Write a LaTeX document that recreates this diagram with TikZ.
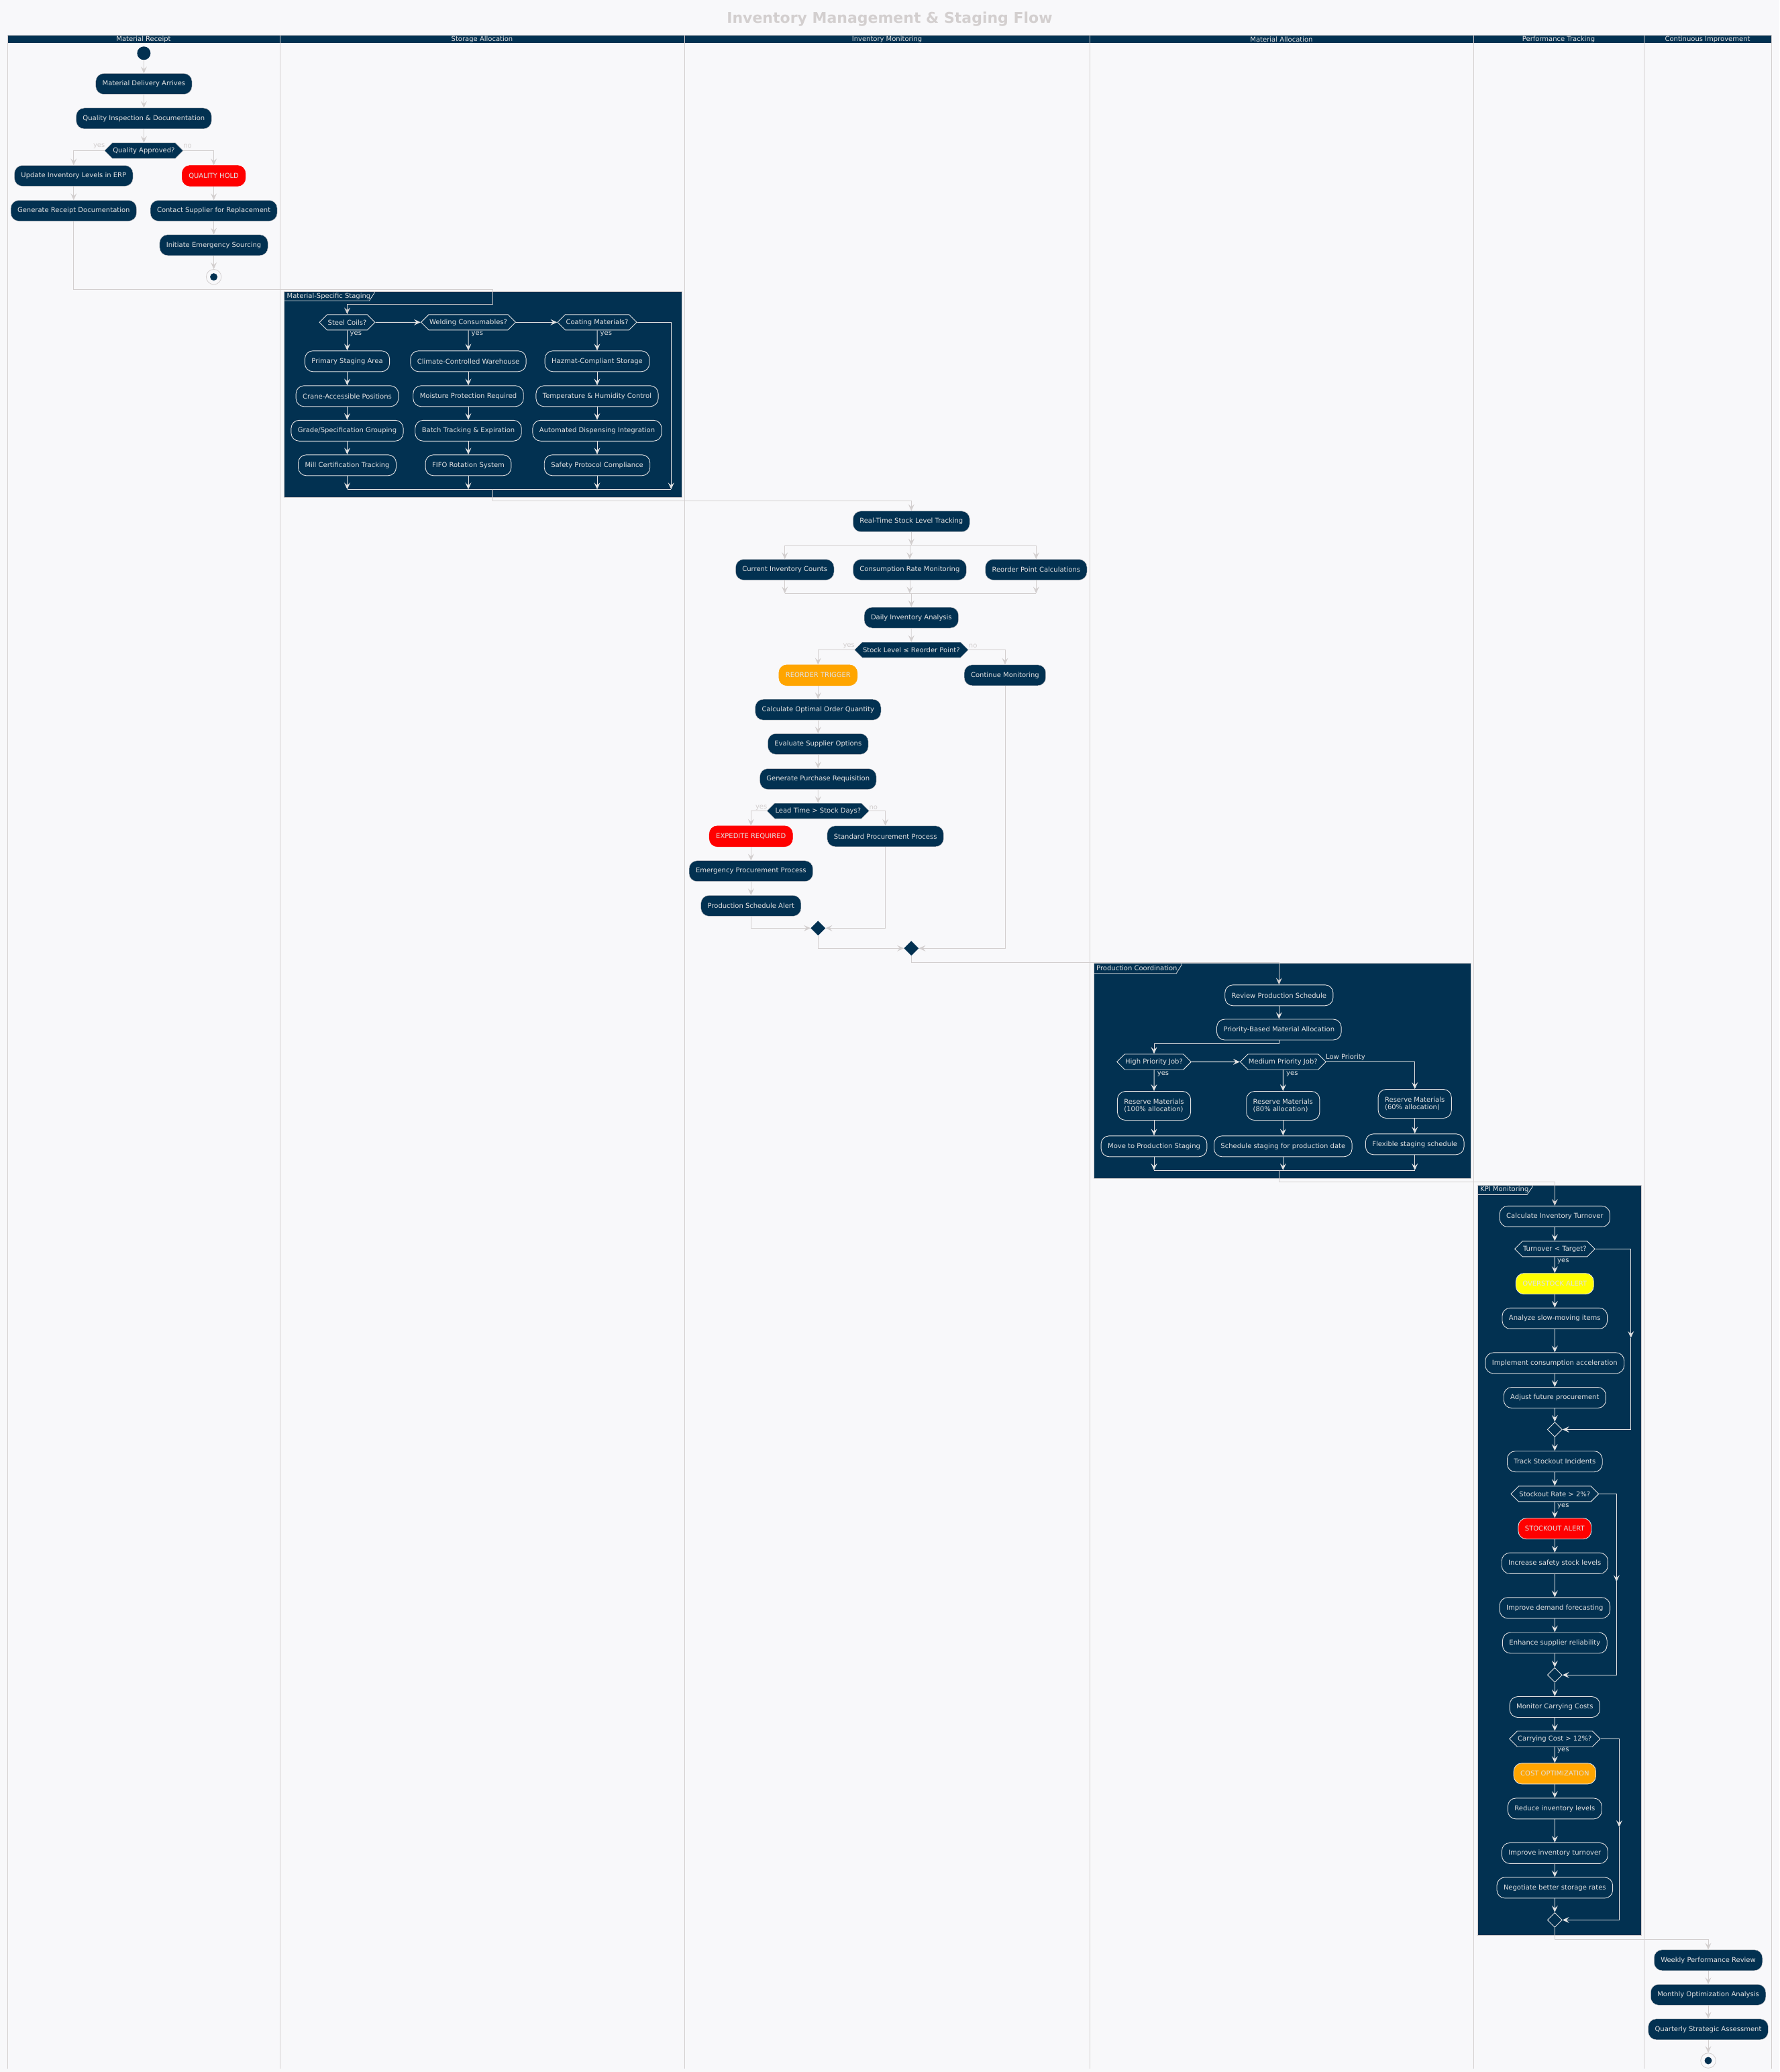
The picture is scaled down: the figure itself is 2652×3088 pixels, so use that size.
\documentclass[tikz,border=0pt]{standalone}
\usepackage{fontspec}
\setmainfont{DejaVu Sans}
\usetikzlibrary{arrows.meta,shapes.symbols,shapes.geometric}
\definecolor{navy}{HTML}{023151}
\definecolor{paper}{HTML}{F8F8FA}
\definecolor{wire}{HTML}{D3CFCF}
\definecolor{ink}{HTML}{E2E2E2}
\definecolor{hotred}{HTML}{FF0000}
\definecolor{amber}{HTML}{FFA500}
\definecolor{lemon}{HTML}{FFFF00}

\begin{document}
\begin{tikzpicture}[
    x=1pt, y=-1pt,
    >={Stealth[length=10pt,width=9pt,inset=4pt]},
    font=\fontsize{10}{11}\selectfont,
    act/.style={
        draw=wire,
        line width=0.5pt,
        fill=navy,
        text=ink,
        rounded corners=12pt,
        minimum height=31pt,
        inner xsep=10pt,
        align=center
    },
    gact/.style={act, draw=ink, line width=0.9pt},
    gact2/.style={gact, align=left, minimum height=43pt},
    cond/.style={
        shape=signal,
        signal to=east and west,
        signal pointer angle=90,
        fill=navy,
        draw=wire,
        line width=0.5pt,
        text=ink,
        minimum height=23pt,
        inner xsep=1pt,
        inner ysep=1pt
    },
    gcond/.style={cond, draw=ink, line width=0.9pt},
    merge/.style={diamond, fill=navy, minimum size=22pt, inner sep=0pt},
    gmerge/.style={merge, draw=ink, line width=0.9pt},
    start/.style={circle, fill=navy, minimum size=20pt, inner sep=0pt},
    stop/.style={circle, draw=wire, line width=0.8pt, fill=paper, minimum size=22.5pt, inner sep=0pt,
        path picture={\fill[navy] (path picture bounding box.center) circle (5.5pt);}},
    grpbox/.style={fill=navy, draw=wire, line width=0.8pt},
    tabline/.style={draw=ink, line width=0.8pt},
    tabtext/.style={text=ink, anchor=west, inner sep=0pt},
    lanehead/.style={text=ink, inner sep=0pt},
    lbl/.style={text=wire, inner sep=0pt},
    glbl/.style={text=ink, inner sep=0pt, anchor=west},
    arr/.style={->, draw=wire, line width=0.8pt},
    garr/.style={->, draw=ink, line width=1pt},
    gline/.style={draw=ink, line width=1pt}
]
\useasboundingbox (0,0) rectangle (2652,3088);
\fill[paper] (0,0) rectangle (2652,3088);

% title and swimlanes
\node[font=\bfseries\fontsize{22}{26}\selectfont, text=wire, anchor=base] (title) at (1326,35)
    {Inventory Management \& Staging Flow};
\fill[navy] (11,52.3) rectangle (2640,64.3);
\draw[wire, line width=0.8pt] (11,52.3) -- (2640,52.3);
\foreach \lx in {11,417,1020,1624,2196,2450,2640}
    \draw[wire, line width=0.8pt] (\lx,52.3) -- (\lx,3083);
\node[lanehead] (hrcpt) at (214,58.3) {Material Receipt};
\node[lanehead] (hstor) at (718.5,58.3) {Storage Allocation};
\node[lanehead] (hmon) at (1322,58.3) {Inventory Monitoring};
\node[lanehead] (halloc) at (1910,58.3) {Material Allocation};
\node[lanehead] (hperf) at (2323,58.3) {Performance Tracking};
\node[lanehead] (himpr) at (2545,58.3) {Continuous Improvement};

% material receipt
\node[start] (st1) at (214.4,79.3) {};
\node[act] (deliv) at (214.4,125) {Material Delivery Arrives};
\node[act] (inspect) at (214.4,176.5) {Quality Inspection \& Documentation};
\node[cond] (qok) at (214.4,224.5) {Quality Approved?};
\node[lbl] (qyes) at (147.7,218) {yes};
\node[lbl] (qno) at (279.5,218) {no};
\node[act] (erp) at (109.8,262) {Update Inventory Levels in ERP};
\node[act] (rcpt) at (109.8,314) {Generate Receipt Documentation};
\node[act, fill=hotred, draw=hotred] (hold) at (318.6,262) {QUALITY HOLD};
\node[act] (contact) at (318.6,314) {Contact Supplier for Replacement};
\node[act] (emerg) at (318.6,365.3) {Initiate Emergency Sourcing};
\node[stop] (end1) at (318.6,412.7) {};

\draw[arr] (st1) -- (deliv);
\draw[arr] (deliv) -- (inspect);
\draw[arr] (inspect) -- (qok);
\draw[arr] (qok.west) -| (erp.north);
\draw[arr] (qok.east) -| (hold.north);
\draw[arr] (erp) -- (rcpt);
\draw[arr] (hold) -- (contact);
\draw[arr] (contact) -- (emerg);
\draw[arr] (emerg) -- (end1);

% storage allocation: material-specific staging
\draw[grpbox] (423.8,434) rectangle (1016.2,741);
\draw[tabline] (423.8,448.3) -- (550.4,448.3) -- (558.3,436) -- (558.3,434);
\node[tabtext] (stgtab) at (427.5,441.3) {Material-Specific Staging};

\node[gcond] (steel) at (517.5,480.3) {Steel Coils?};
\node[gcond] (weld) at (698,480.3) {Welding Consumables?};
\node[gcond] (coat) at (890,480.3) {Coating Materials?};
\node[glbl] (syes) at (521.5,497.7) {yes};
\node[glbl] (wyes) at (702.5,497.7) {yes};
\node[glbl] (cyes) at (894.5,497.7) {yes};

\node[gact] (prim) at (517.5,538.3) {Primary Staging Area};
\node[gact] (crane) at (517.5,590.3) {Crane-Accessible Positions};
\node[gact] (grade) at (517.5,641.8) {Grade/Specification Grouping};
\node[gact] (mill) at (517.5,693.3) {Mill Certification Tracking};
\node[gact] (clim) at (698,538.3) {Climate-Controlled Warehouse};
\node[gact] (moist) at (698,590.3) {Moisture Protection Required};
\node[gact] (batch) at (698,641.8) {Batch Tracking \& Expiration};
\node[gact] (fifo) at (698,693.3) {FIFO Rotation System};
\node[gact] (hazm) at (890,538.3) {Hazmat-Compliant Storage};
\node[gact] (temp) at (890,590.3) {Temperature \& Humidity Control};
\node[gact] (disp) at (890,641.8) {Automated Dispensing Integration};
\node[gact] (safe) at (890,693.3) {Safety Protocol Compliance};

\coordinate (se1) at (734.2,431.7);
\coordinate (se2) at (734.2,453.3);
\draw[arr] (rcpt.south) |- (se1) -- (se2) -| (steel.north);
\draw[garr] (steel) -- (weld);
\draw[garr] (weld) -- (coat);
\draw[garr] (steel) -- (prim);
\draw[garr] (weld) -- (clim);
\draw[garr] (coat) -- (hazm);
\draw[garr] (prim) -- (crane);
\draw[garr] (crane) -- (grade);
\draw[garr] (grade) -- (mill);
\draw[garr] (clim) -- (moist);
\draw[garr] (moist) -- (batch);
\draw[garr] (batch) -- (fifo);
\draw[garr] (hazm) -- (temp);
\draw[garr] (temp) -- (disp);
\draw[garr] (disp) -- (safe);

\coordinate (sjL) at (517.5,729.3);
\coordinate (sjR) at (1000.3,729.3);
\draw[gline] (sjL) -- (sjR);
\draw[garr] (mill) -- (mill |- sjL);
\draw[garr] (fifo) -- (fifo |- sjL);
\draw[garr] (safe) -- (safe |- sjL);
\draw[garr] (coat.east) -| (sjR);

% inventory monitoring
\node[act] (rt) at (1358.3,777.2) {Real-Time Stock Level Tracking};
\coordinate (sx1) at (734.2,729.3);
\coordinate (sx2) at (734.2,746);
\draw[arr] (sx1) -- (sx2) -| (rt.north);

\node[act] (cnt) at (1169.7,849) {Current Inventory Counts};
\node[act] (cons) at (1355.9,849) {Consumption Rate Monitoring};
\node[act] (rop) at (1544.3,849) {Reorder Point Calculations};
\coordinate (fkL) at (1169.7,812.7);
\coordinate (fkR) at (1544.3,812.7);
\coordinate (jnL) at (1169.7,884.3);
\coordinate (jnR) at (1544.3,884.3);
\draw[arr] (rt) -- (rt |- fkL);
\draw[wire, line width=0.8pt] (fkL) -- (fkR);
\draw[arr] (cnt |- fkL) -- (cnt);
\draw[arr] (cons |- fkL) -- (cons);
\draw[arr] (rop |- fkL) -- (rop);
\draw[arr] (cnt) -- (cnt |- jnL);
\draw[arr] (cons) -- (cons |- jnL);
\draw[arr] (rop) -- (rop |- jnL);
\draw[wire, line width=0.8pt] (jnL) -- (jnR);

\node[act] (daily) at (1358.3,920.5) {Daily Inventory Analysis};
\draw[arr] (daily |- jnL) -- (daily);
\node[cond] (stock) at (1358.3,968.5) {Stock Level ≤ Reorder Point?};
\node[lbl] (kyes) at (1265.2,962.7) {yes};
\node[lbl] (kno) at (1450.2,962.7) {no};
\node[act, fill=amber, draw=amber] (reord) at (1219.3,1006.3) {REORDER TRIGGER};
\node[act] (contm) at (1497.9,1006.3) {Continue Monitoring};
\node[act] (optq) at (1219.3,1057.7) {Calculate Optimal Order Quantity};
\node[act] (evsup) at (1219.3,1108.8) {Evaluate Supplier Options};
\node[act] (preq) at (1219.3,1161) {Generate Purchase Requisition};
\node[cond] (lead) at (1219.3,1208.5) {Lead Time > Stock Days?};
\node[lbl] (lyes) at (1134.7,1203.7) {yes};
\node[lbl] (lno) at (1301.8,1203.7) {no};
\node[act, fill=hotred, draw=hotred] (exped) at (1119.3,1246.3) {EXPEDITE REQUIRED};
\node[act] (stdp) at (1319.6,1246.3) {Standard Procurement Process};
\node[act] (emproc) at (1119.3,1298.2) {Emergency Procurement Process};
\node[act] (psalert) at (1119.3,1349.9) {Production Schedule Alert};
\node[merge] (mg1) at (1219.3,1383.3) {};
\node[merge] (mg2) at (1358.3,1413.3) {};

\draw[arr] (daily) -- (stock);
\draw[arr] (stock.west) -| (reord.north);
\draw[arr] (stock.east) -| (contm.north);
\draw[arr] (reord) -- (optq);
\draw[arr] (optq) -- (evsup);
\draw[arr] (evsup) -- (preq);
\draw[arr] (preq) -- (lead);
\draw[arr] (lead.west) -| (exped.north);
\draw[arr] (lead.east) -| (stdp.north);
\draw[arr] (exped) -- (emproc);
\draw[arr] (emproc) -- (psalert);
\draw[arr] (psalert.south) |- (mg1.west);
\draw[arr] (stdp.south) |- (mg1.east);
\draw[arr] (mg1.south) |- (mg2.west);
\draw[arr] (contm.south) |- (mg2.east);

% material allocation: production coordination
\draw[grpbox] (1630.4,1435.7) rectangle (2192.7,1756);
\draw[tabline] (1630.4,1450.7) -- (1753.2,1450.7) -- (1761.3,1437.7) -- (1761.3,1435.7);
\node[tabtext] (pctab) at (1634,1442.7) {Production Coordination};

\node[gact] (rps) at (1906.3,1483.3) {Review Production Schedule};
\coordinate (px1) at (1358.3,1434.3);
\draw[arr] (mg2.south) -- (px1) -| (rps.north);
\node[gact] (pbma) at (1906.3,1534.5) {Priority-Based Material Allocation};
\node[gcond] (hpj) at (1720,1582.5) {High Priority Job?};
\node[gcond] (mpj) at (1912.3,1582.5) {Medium Priority Job?};
\node[glbl] (hyes) at (1724.7,1601) {yes};
\node[glbl] (myes) at (1917,1601) {yes};
\node[glbl] (lowp) at (1976,1576) {Low Priority};
\node[gact2] (rm100) at (1720,1648) {Reserve Materials\\(100\% allocation)};
\node[gact2] (rm80) at (1912.3,1648) {Reserve Materials\\(80\% allocation)};
\node[gact2] (rm60) at (2108.7,1645) {Reserve Materials\\(60\% allocation)};
\node[gact] (mps) at (1720,1708.3) {Move to Production Staging};
\node[gact] (ssp) at (1912.3,1708.3) {Schedule staging for production date};
\node[gact] (fss) at (2108.7,1705.3) {Flexible staging schedule};

\coordinate (pb1) at (1906.3,1555);
\draw[garr] (rps) -- (pbma);
\draw[garr] (pbma.south) -- (pb1) -| (hpj.north);
\draw[garr] (hpj) -- (mpj);
\draw[garr] (mpj.east) -| (rm60.north);
\draw[garr] (hpj) -- (rm100);
\draw[garr] (mpj) -- (rm80);
\draw[garr] (rm100) -- (mps);
\draw[garr] (rm80) -- (ssp);
\draw[garr] (rm60) -- (fss);
\coordinate (pjL) at (1720,1744);
\coordinate (pjR) at (2108.7,1744);
\draw[gline] (pjL) -- (pjR);
\draw[garr] (mps) -- (mps |- pjL);
\draw[garr] (ssp) -- (ssp |- pjL);
\draw[garr] (fss) -- (fss |- pjL);

% performance tracking: kpi monitoring
\draw[grpbox] (2202.7,1766.4) rectangle (2446,2884.8);
\draw[tabline] (2202.7,1780.4) -- (2276,1780.4) -- (2284.3,1768.4) -- (2284.3,1766.4);
\node[tabtext] (kpitab) at (2206,1773) {KPI Monitoring};

\node[gact] (cit) at (2317.3,1812.9) {Calculate Inventory Turnover};
\coordinate (pj0) at (1906.3,1744);
\coordinate (pj1) at (1906.3,1761.8);
\draw[arr] (pj0) -- (pj1) -| (cit.north);
\node[gcond] (tot) at (2317.3,1861.4) {Turnover < Target?};
\node[glbl] (tyes) at (2321,1879.6) {yes};
\node[gact, fill=lemon] (ovs) at (2317.3,1913.2) {OVERSTOCK ALERT};
\node[gact] (asm) at (2317.3,1964.8) {Analyze slow-moving items};
\node[gact] (ica) at (2317.3,2031.4) {Implement consumption acceleration};
\node[gact] (afp) at (2317.3,2083) {Adjust future procurement};
\node[gmerge] (km1) at (2317.3,2130.4) {};
\node[gact] (tsi) at (2317.3,2178.2) {Track Stockout Incidents};
\node[gcond] (sr) at (2317.3,2226.4) {Stockout Rate > 2\%?};
\node[glbl] (ryes) at (2321,2244.6) {yes};
\node[gact, fill=hotred] (soa) at (2317.3,2278.2) {STOCKOUT ALERT};
\node[gact] (issl) at (2317.3,2329.8) {Increase safety stock levels};
\node[gact] (idf) at (2317.3,2396.3) {Improve demand forecasting};
\node[gact] (esr) at (2317.3,2448.5) {Enhance supplier reliability};
\node[gmerge] (km2) at (2317.3,2496.3) {};
\node[gact] (mcc) at (2317.3,2544) {Monitor Carrying Costs};
\node[gcond] (cc) at (2317.3,2591.5) {Carrying Cost > 12\%?};
\node[glbl] (cyes2) at (2321,2609.2) {yes};
\node[gact, fill=amber] (copt) at (2317.3,2643.3) {COST OPTIMIZATION};
\node[gact] (ril) at (2317.3,2695.4) {Reduce inventory levels};
\node[gact] (iit) at (2317.3,2761.9) {Improve inventory turnover};
\node[gact] (nbs) at (2317.3,2813.4) {Negotiate better storage rates};
\node[gmerge] (km3) at (2317.3,2861.4) {};

\draw[garr] (cit) -- (tot);
\draw[garr] (tot) -- (ovs);
\draw[garr] (ovs) -- (asm);
\draw[garr] (asm) -- (ica);
\draw[garr] (ica) -- (afp);
\draw[garr] (afp) -- (km1);
\coordinate (ks1) at (2430.7,1993.9);
\draw[garr] (tot.east) -| (ks1);
\draw[garr] (ks1) |- (km1.east);
\draw[garr] (km1) -- (tsi);
\draw[garr] (tsi) -- (sr);
\draw[garr] (sr) -- (soa);
\draw[garr] (soa) -- (issl);
\draw[garr] (issl) -- (idf);
\draw[garr] (idf) -- (esr);
\draw[garr] (esr) -- (km2);
\coordinate (ks2) at (2409.3,2357.4);
\draw[garr] (sr.east) -| (ks2);
\draw[garr] (ks2) |- (km2.east);
\draw[garr] (km2) -- (mcc);
\draw[garr] (mcc) -- (cc);
\draw[garr] (cc) -- (copt);
\draw[garr] (copt) -- (ril);
\draw[garr] (ril) -- (iit);
\draw[garr] (iit) -- (nbs);
\draw[garr] (nbs) -- (km3);
\coordinate (ks3) at (2413.3,2722.9);
\draw[garr] (cc.east) -| (ks3);
\draw[garr] (ks3) |- (km3.east);

% continuous improvement
\node[act] (wpr) at (2546,2921.3) {Weekly Performance Review};
\node[act] (moa) at (2546,2972.8) {Monthly Optimization Analysis};
\node[act] (qsa) at (2546,3024.3) {Quarterly Strategic Assessment};
\node[stop] (end2) at (2546,3071) {};
\coordinate (kx) at (2317.3,2890.3);
\draw[arr] (km3.south) -- (kx) -| (wpr.north);
\draw[arr] (wpr) -- (moa);
\draw[arr] (moa) -- (qsa);
\draw[arr] (qsa) -- (end2);

\end{tikzpicture}
\end{document}
